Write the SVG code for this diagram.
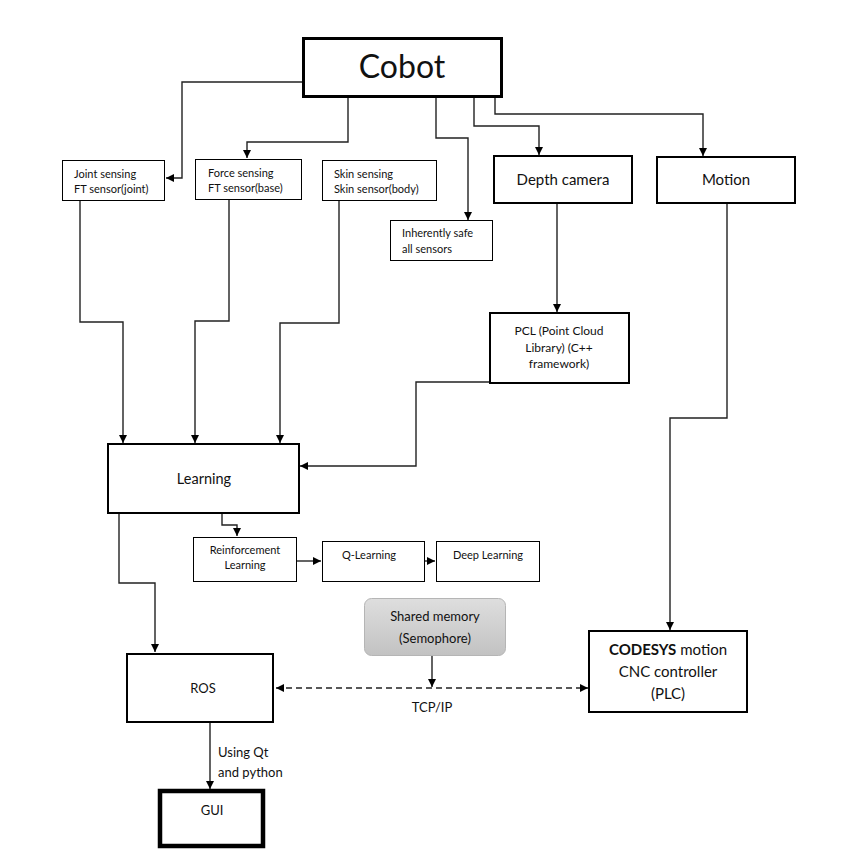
<svg xmlns="http://www.w3.org/2000/svg" width="843" height="855" viewBox="0 0 843 855">
<style>
text{font-family:Lato,"Noto Sans","Liberation Sans",sans-serif;fill:#111}
.b{fill:#fff;stroke:#000}
.t1{stroke-width:1}
.t2{stroke-width:2}
.c{fill:none;stroke:#222;stroke-width:1.4}
.s{font-size:11px}
.m{font-size:12px;text-anchor:middle}
.mid{text-anchor:middle}
</style>
<defs>
<marker id="ah" viewBox="0 0 10 10" refX="10" refY="5" markerWidth="8" markerHeight="8" markerUnits="userSpaceOnUse" orient="auto-start-reverse">
<path d="M0,0 L10,5 L0,10 z" fill="#000"/>
</marker>
<linearGradient id="g" x1="0" y1="0" x2="0" y2="1">
<stop offset="0" stop-color="#dedede"/>
<stop offset="1" stop-color="#c2c2c2"/>
</linearGradient>
</defs>
<rect width="843" height="855" fill="#fff"/>

<g id="connectors">
<path class="c" d="M303,82 H182 V178 H166" marker-end="url(#ah)"/>
<path class="c" d="M348,97 V142 H247 V158" marker-end="url(#ah)"/>
<path class="c" d="M436,97 V138 H468 V220" marker-end="url(#ah)"/>
<path class="c" d="M474,97 V126 H539 V155" marker-end="url(#ah)"/>
<path class="c" d="M495,97 V114 H703 V156" marker-end="url(#ah)"/>
<path class="c" d="M557,203 V312" marker-end="url(#ah)"/>
<path class="c" d="M727,203 V418 H670 V630" marker-end="url(#ah)"/>
<path class="c" d="M80,200 V322 H123 V443" marker-end="url(#ah)"/>
<path class="c" d="M229,199 V321 H195 V443" marker-end="url(#ah)"/>
<path class="c" d="M339,200 V323 H280 V443" marker-end="url(#ah)"/>
<path class="c" d="M490,382 H416 V466 H300" marker-end="url(#ah)"/>
<path class="c" d="M222,513 V525 H237 V536" marker-end="url(#ah)"/>
<path class="c" d="M297,561 H321" marker-end="url(#ah)"/>
<path class="c" d="M425,561 H435" marker-end="url(#ah)"/>
<path class="c" d="M119,513 V583 H155 V652" marker-end="url(#ah)"/>
<path class="c" d="M210,722 V789" marker-end="url(#ah)"/>
<path class="c" d="M432,656 V687" marker-end="url(#ah)"/>
<path class="c" d="M276,688 H588" stroke-dasharray="6,4" marker-start="url(#ah)" marker-end="url(#ah)"/>
<text x="432" y="712" class="mid" font-size="13">TCP/IP</text>
<text x="218" y="757" font-size="13">Using Qt</text>
<text x="218" y="777" font-size="13">and python</text>
</g>

<g id="cobot">
<rect class="b" x="303.5" y="38.5" width="198" height="58" stroke-width="3"/>
<text x="402" y="78" class="mid" font-size="32">Cobot</text>
</g>
<g id="joint">
<rect class="b t1" x="62.5" y="160.5" width="102" height="40"/>
<text x="74" y="178" class="s">Joint sensing</text>
<text x="74" y="193" class="s">FT sensor(joint)</text>
</g>
<g id="force">
<rect class="b t1" x="195.5" y="159.5" width="106" height="40"/>
<text x="208" y="177" class="s">Force sensing</text>
<text x="208" y="192" class="s">FT sensor(base)</text>
</g>
<g id="skin">
<rect class="b t1" x="322.5" y="160.5" width="114" height="40"/>
<text x="334" y="178" class="s">Skin sensing</text>
<text x="334" y="193" class="s">Skin sensor(body)</text>
</g>
<g id="inherent">
<rect class="b t1" x="390.5" y="220.5" width="102" height="40"/>
<text x="402" y="237" class="s">Inherently safe</text>
<text x="402" y="253" class="s">all sensors</text>
</g>
<g id="depth">
<rect class="b t2" x="494" y="156" width="138" height="47"/>
<text x="563" y="185" class="mid" font-size="15">Depth camera</text>
</g>
<g id="motion">
<rect class="b t2" x="657" y="157" width="138" height="46"/>
<text x="726" y="185" class="mid" font-size="15">Motion</text>
</g>
<g id="pcl">
<rect class="b t2" x="490" y="313" width="139" height="70"/>
<text x="559" y="335" class="m">PCL (Point Cloud</text>
<text x="559" y="352" class="m">Library) (C++</text>
<text x="559" y="368" class="m">framework)</text>
</g>
<g id="learning">
<rect class="b t2" x="108" y="444" width="191" height="69"/>
<text x="204" y="484" class="mid" font-size="14.5">Learning</text>
</g>
<g id="reinforcement">
<rect class="b t1" x="193.5" y="537.5" width="103" height="44"/>
<text x="245" y="554" class="mid" font-size="11">Reinforcement</text>
<text x="245" y="569" class="mid" font-size="11">Learning</text>
</g>
<g id="qlearning">
<rect class="b t1" x="322.5" y="541.5" width="102" height="40"/>
<text x="369" y="559" class="mid" font-size="11">Q-Learning</text>
</g>
<g id="deeplearning">
<rect class="b t1" x="436.5" y="541.5" width="103" height="40"/>
<text x="488" y="559" class="mid" font-size="11">Deep Learning</text>
</g>
<g id="shared">
<rect x="364.5" y="598.5" width="141" height="57" rx="7" fill="url(#g)" stroke="#b5b5b5"/>
<text x="435" y="621" class="mid" font-size="13" fill="#333">Shared memory</text>
<text x="435" y="643" class="mid" font-size="13" fill="#333">(Semophore)</text>
</g>
<g id="ros">
<rect class="b t2" x="127" y="654" width="146" height="68"/>
<text x="203" y="693" class="mid" font-size="13">ROS</text>
</g>
<g id="codesys">
<rect class="b t2" x="589" y="631" width="158" height="81"/>
<text x="668" y="655" class="mid" font-size="15"><tspan font-weight="bold">CODESYS</tspan> motion</text>
<text x="668" y="677" class="mid" font-size="15">CNC controller</text>
<text x="668" y="699" class="mid" font-size="15">(PLC)</text>
</g>
<g id="gui">
<rect class="b" x="160" y="791" width="103" height="55" stroke-width="4.5"/>
<text x="212" y="815" class="mid" font-size="13">GUI</text>
</g>
</svg>
